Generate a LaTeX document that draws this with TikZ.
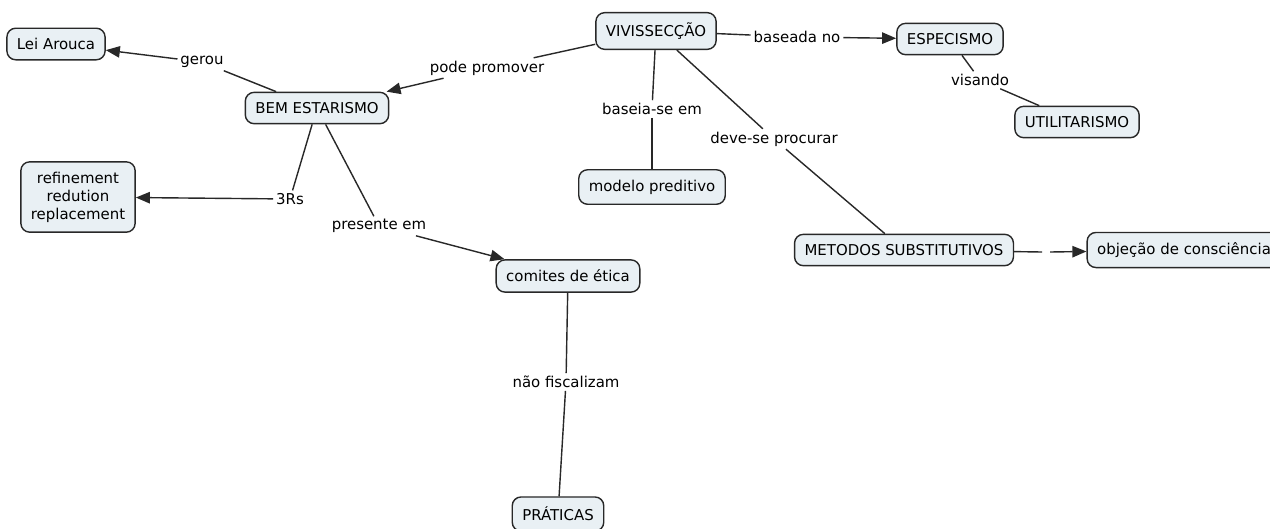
\documentclass[tikz,border=0pt]{standalone}
\usepackage{fontspec}
\setmainfont{DejaVu Sans}
\usetikzlibrary{arrows.meta}

\definecolor{conceptfill}{RGB}{233,240,244}
\definecolor{conceptline}{RGB}{40,40,40}

\tikzset{
  concept/.style={draw=conceptline, fill=conceptfill, rounded corners=5pt, line width=0.8pt,
    inner xsep=5.7pt, inner ysep=5.7pt, align=center, font=\fontsize{8.5}{10.2}\selectfont},
  linkword/.style={inner sep=1.5pt, font=\fontsize{8.5}{10.2}\selectfont},
  link/.style={draw=conceptline, line width=0.8pt},
  arr/.style={link, -{Triangle[length=8pt,width=6.5pt]}}
}

\begin{document}
\begin{tikzpicture}[x=0.02cm, y=-0.02cm]
\useasboundingbox (0,0) rectangle (1270,528);

% concepts
\node[concept] (vivisseccao) at (656,31) {VIVISSECÇÃO};
\node[concept] (especismo) at (950,39) {ESPECISMO};
\node[concept] (utilitarismo) at (1077,122) {UTILITARISMO};
\node[concept] (leiarouca) at (56,44) {Lei Arouca};
\node[concept] (bemestarismo) at (317,108) {BEM ESTARISMO};
\node[concept] (tresrs) at (78,197) {refinement\\redution\\replacement};
\node[concept] (modelo) at (652,187) {modelo preditivo};
\node[concept] (comites) at (568,276) {comites de ética};
\node[concept] (metodos) at (904,250) {METODOS SUBSTITUTIVOS};
\node[concept] (objecao) at (1184,250) {objeção de consciência};
\node[concept] (praticas) at (558,514) {PRÁTICAS};

% linking words
\node[linkword] (gerou) at (202,62) {gerou};
\node[linkword] (podepromover) at (487,68) {pode promover};
\node[linkword] (baseadano) at (797,37) {baseada no};
\node[linkword] (visando) at (980,80) {visando};
\node[linkword] (baseiase) at (652,109) {baseia-se em};
\node[linkword] (deveseprocurar) at (774,139) {deve-se procurar};
\node[linkword] (tresrslabel) at (290,199) {3Rs};
\node[linkword] (presenteem) at (379,226) {presente em};
\node[linkword] (naofiscalizam) at (566,382) {não fiscalizam};
\coordinate (gapa) at (1042,252);
\coordinate (gapb) at (1050,252);

% connectors
\draw[link] (bemestarismo) -- (gerou);
\draw[arr] (gerou) -- (leiarouca);
\draw[link] (vivisseccao) -- (podepromover);
\draw[arr] (podepromover) -- (bemestarismo);
\draw[link] (vivisseccao) -- (baseadano);
\draw[arr] (baseadano) -- (especismo);
\draw[link] (especismo) -- (visando);
\draw[link] (visando) -- (utilitarismo);
\draw[link] (vivisseccao) -- (baseiase);
\draw[link] (baseiase) -- (modelo);
\draw[link] (vivisseccao) -- (deveseprocurar);
\draw[link] (deveseprocurar) -- (metodos);
\draw[link] (bemestarismo) -- (tresrslabel);
\draw[arr] (tresrslabel) -- (tresrs);
\draw[link] (bemestarismo) -- (presenteem);
\draw[arr] (presenteem) -- (comites);
\draw[link] (comites) -- (naofiscalizam);
\draw[link] (naofiscalizam) -- (praticas);
\draw[link] (metodos) -- (gapa);
\draw[arr] (gapb) -- (objecao);

\end{tikzpicture}
\end{document}
